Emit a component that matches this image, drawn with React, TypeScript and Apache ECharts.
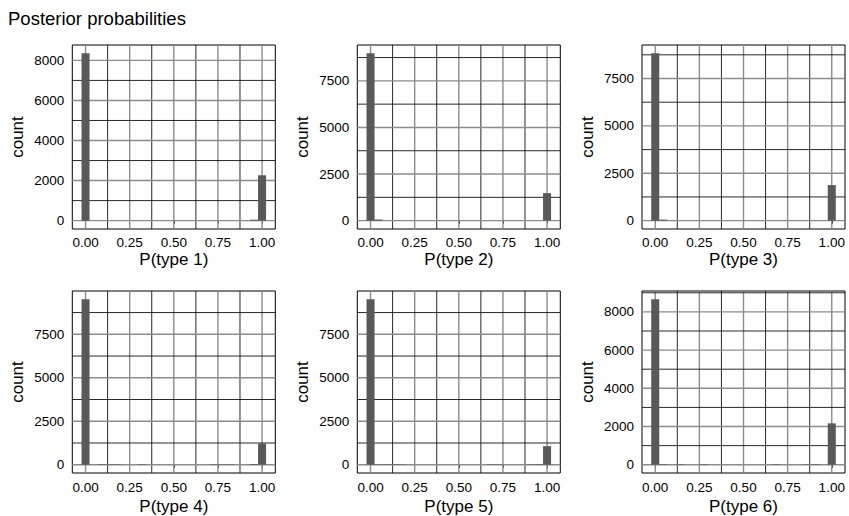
import React, { useEffect, useRef } from "react";
import * as echarts from "echarts";

const FONT = "'Liberation Sans', Arial, Helvetica, sans-serif";

const titleText = "Posterior probabilities";
const BIN_COUNT = 23;

const panelNames = ["P(type 1)", "P(type 2)", "P(type 3)", "P(type 4)", "P(type 5)", "P(type 6)"];

// counts per bin (23 bins centred on 0, 1/22, ..., 1)
const countsType1 = [8350, 0, 0, 0, 0, 0, 0, 0, 0, 0, 0, 0, 0, 0, 0, 0, 0, 0, 0, 0, 0, 45, 2265];
const countsType2 = [8975, 60, 0, 0, 0, 0, 0, 0, 0, 0, 0, 0, 0, 0, 0, 0, 0, 0, 0, 0, 0, 0, 1473];
const countsType3 = [8827, 55, 0, 0, 0, 0, 0, 0, 0, 0, 0, 0, 0, 0, 0, 0, 0, 0, 0, 0, 0, 0, 1874];
const countsType4 = [9514, 0, 30, 25, 20, 0, 0, 25, 0, 0, 0, 0, 0, 0, 0, 0, 25, 25, 20, 0, 0, 35, 1221];
const countsType5 = [9514, 20, 30, 30, 20, 0, 0, 0, 0, 0, 0, 0, 0, 0, 0, 20, 25, 0, 0, 0, 25, 35, 1067];
const countsType6 = [8660, 30, 0, 25, 0, 0, 25, 0, 0, 0, 0, 0, 0, 0, 0, 25, 0, 0, 0, 20, 25, 0, 2166];

const allCounts = [countsType1, countsType2, countsType3, countsType4, countsType5, countsType6];

const xMajorTicks = [0, 0.25, 0.5, 0.75, 1];
const xMinorTicks = [0.125, 0.375, 0.625, 0.875];

const yMajorA = [0, 2000, 4000, 6000, 8000];
const yMajorB = [0, 2500, 5000, 7500];
const yMinorA = [1000, 3000, 5000, 7000];
const yMinorB = [1250, 3750, 6250, 8750];
const yMinorF = [1000, 3000, 5000, 7000, 9000];

const yMajorTicks = [yMajorA, yMajorB, yMajorB, yMajorB, yMajorB, yMajorA];
const yMinorTicks = [yMinorA, yMinorB, yMinorB, yMinorB, yMinorB, yMinorF];

// layout
const panelLefts = [72.3, 357.3, 642];
const panelTops = [45, 291];
const panelWidth = 203;
const panelHeights = [184, 182.5];
const xLabelMargins = [6, 7];
const xNameGaps = [22, 25];

export default function App() {
  const ref = useRef<HTMLDivElement>(null);

  useEffect(() => {
    if (!ref.current) return;
    const chart = echarts.init(ref.current, undefined, { renderer: "svg" });

    const bw = 1 / (BIN_COUNT - 1);
    const xLo = -bw / 2;
    const xHi = 1 + bw / 2;
    const xExp = 0.05 * (xHi - xLo);
    const xMin = xLo - xExp;
    const xMax = xHi + xExp;

    const grids: any[] = [];
    const xAxes: any[] = [];
    const yAxes: any[] = [];
    const series: any[] = [];

    allCounts.forEach((counts, i) => {
      const col = i % 3;
      const row = Math.floor(i / 3);
      grids.push({
        left: panelLefts[col],
        top: panelTops[row],
        width: panelWidth,
        height: panelHeights[row],
        show: true,
        borderColor: "#000",
        borderWidth: 1,
        backgroundColor: "transparent",
        containLabel: false,
      });
      const maxC = Math.max(...counts);
      xAxes.push({
        type: "value",
        gridIndex: i,
        min: xMin,
        max: xMax,
        axisLine: { show: false },
        splitLine: { show: false },
        axisTick: { show: true, customValues: xMajorTicks, length: 3, lineStyle: { color: "#000", width: 1 } },
        axisLabel: {
          customValues: xMajorTicks,
          formatter: (v: number) => v.toFixed(2),
          fontSize: 13.5,
          color: "#000",
          fontFamily: FONT,
          margin: xLabelMargins[row],
        },
        name: panelNames[i],
        nameLocation: "middle",
        nameGap: xNameGaps[row],
        nameTextStyle: { fontSize: 17, color: "#000", fontFamily: FONT },
      });
      yAxes.push({
        type: "value",
        gridIndex: i,
        min: -0.05 * maxC,
        max: 1.05 * maxC,
        axisLine: { show: false },
        splitLine: { show: false },
        axisTick: { show: true, customValues: yMajorTicks[i], length: 3, lineStyle: { color: "#000", width: 1 } },
        axisLabel: {
          customValues: yMajorTicks[i],
          formatter: (v: number) => String(Math.round(v)),
          fontSize: 13.5,
          color: "#000",
          fontFamily: FONT,
          margin: 8,
        },
        name: "count",
        nameLocation: "middle",
        nameGap: 46,
        nameTextStyle: { fontSize: 17, color: "#000", fontFamily: FONT },
      });

      const gridData: number[][] = [
        ...xMajorTicks.map((v) => [v, 0, 0]),
        ...xMinorTicks.map((v) => [v, 0, 1]),
        ...yMajorTicks[i].map((v) => [0, v, 2]),
        ...yMinorTicks[i].map((v) => [0, v, 3]),
      ];
      series.push({
        type: "custom",
        xAxisIndex: i,
        yAxisIndex: i,
        z: 1,
        silent: true,
        encode: { x: 0, y: 1 },
        data: gridData,
        renderItem: (params: any, api: any) => {
          const cs = params.coordSys;
          const kind = api.value(2);
          const p = api.coord([api.value(0), api.value(1)]);
          const major = kind === 0 || kind === 2;
          const style = { stroke: major ? "#8c8c8c" : "#111", lineWidth: major ? 1.4 : 0.9 };
          if (kind < 2) {
            return { type: "line", shape: { x1: p[0], y1: cs.y, x2: p[0], y2: cs.y + cs.height }, style };
          }
          return { type: "line", shape: { x1: cs.x, y1: p[1], x2: cs.x + cs.width, y2: p[1] }, style };
        },
      });

      const barData = counts
        .map((c, k) => [(k - 0.5) * bw, (k + 0.5) * bw, c])
        .filter((d) => d[2] > 0);
      series.push({
        type: "custom",
        xAxisIndex: i,
        yAxisIndex: i,
        z: 2,
        encode: { x: [0, 1], y: 2 },
        data: barData,
        renderItem: (params: any, api: any) => {
          const p0 = api.coord([api.value(0), 0]);
          const p1 = api.coord([api.value(1), api.value(2)]);
          return {
            type: "rect",
            shape: { x: p0[0], y: p1[1], width: p1[0] - p0[0], height: p0[1] - p1[1] },
            style: { fill: "#595959" },
          };
        },
      });
    });

    chart.setOption({
      animation: false,
      backgroundColor: "#fff",
      title: {
        text: titleText,
        left: 8,
        top: 9,
        padding: 0,
        textStyle: { fontSize: 18.5, fontWeight: "normal", color: "#000", fontFamily: FONT },
      },
      grid: grids,
      xAxis: xAxes,
      yAxis: yAxes,
      series,
    });

    return () => chart.dispose();
  }, []);

  return (
    <div
      ref={ref}
      style={{ position: "fixed", left: 0, top: 0, width: 849, height: 516 }}
    />
  );
}
